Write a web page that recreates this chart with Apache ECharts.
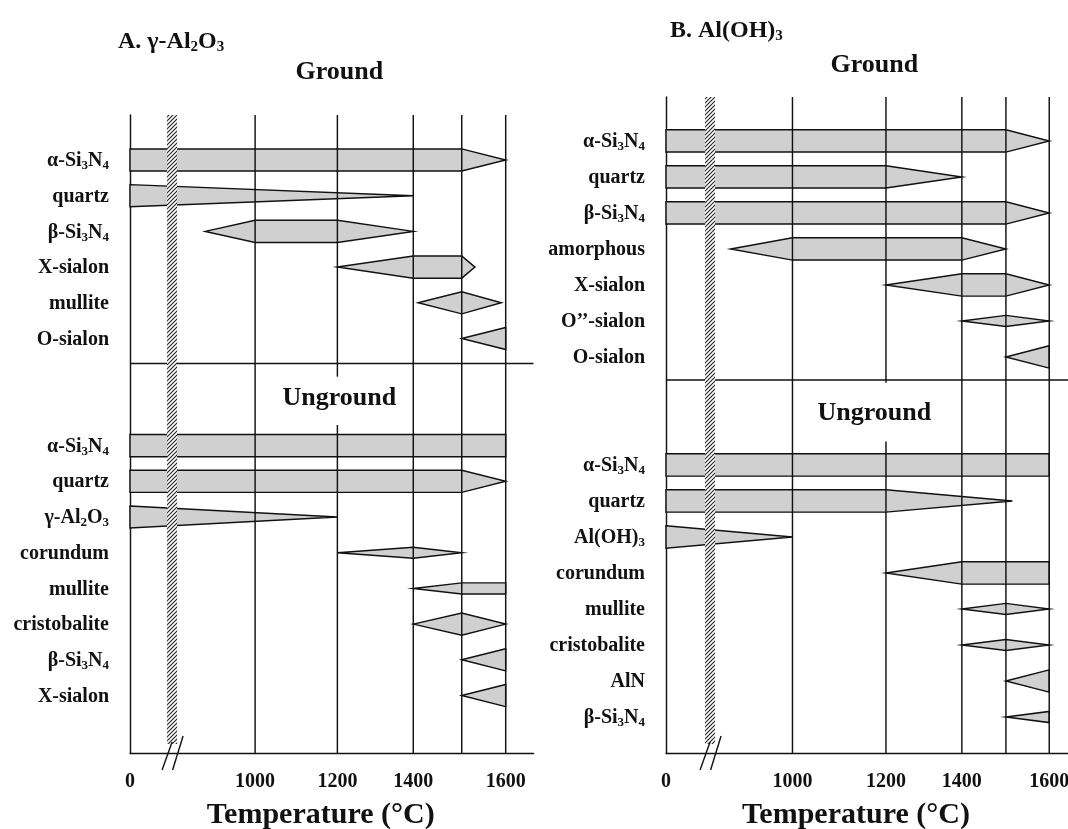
<!DOCTYPE html>
<html>
<head>
<meta charset="utf-8">
<script src="https://cdn.jsdelivr.net/npm/echarts@6/dist/echarts.min.js"></script>
<style>
  html, body { margin: 0; padding: 0; background: #fff; }
  #chart { width: 1068px; height: 829px; }
</style>
</head>
<body>
<div id="chart"></div>
<script>
// ---- Temperature axis (broken between 0 and 800 °C) ----
const tickTemps  = [0, 1000, 1200, 1400, 1600];
const guideTemps = [1000, 1200, 1400, 1500, 1600];
const breakTemp  = 800;
// temperature stops and where they sit along each panel's axis (0–1600 span = 100)
const stopTemps = [0, 800, 1000, 1200, 1400, 1500, 1600];
const stopPosA  = [0, 11.2, 33.3, 55.2, 75.4, 88.3, 100];
const stopPosB  = [0, 11.5, 33.0, 57.4, 77.2, 88.7, 100];

// ---- Phases: [label, row, profile [temperature °C, relative amount]] ----
const groundA = [
  ['α-Si_3N_4', 0, [[0, 1], [1500, 1], [1600, 0]]],
  ['quartz',    1, [[0, 1], [1400, 0]]],
  ['β-Si_3N_4', 2, [[880, 0], [1000, 1], [1200, 1], [1400, 0]]],
  ['X-sialon',  3, [[1200, 0], [1400, 1], [1500, 1], [1530, 0]]],
  ['mullite',   4, [[1410, 0], [1500, 1], [1590, 0]]],
  ['O-sialon',  5, [[1500, 0], [1600, 1]]]
];
const ungroundA = [
  ['α-Si_3N_4',    8, [[0, 1], [1600, 1]]],
  ['quartz',       9, [[0, 1], [1500, 1], [1600, 0]]],
  ['γ-Al_2O_3',   10, [[0, 1], [1200, 0]]],
  ['corundum',    11, [[1200, 0], [1400, 0.5], [1500, 0]]],
  ['mullite',     12, [[1400, 0], [1500, 0.5], [1600, 0.5]]],
  ['cristobalite',13, [[1400, 0], [1500, 1], [1600, 0]]],
  ['β-Si_3N_4',   14, [[1500, 0], [1600, 1]]],
  ['X-sialon',    15, [[1500, 0], [1600, 1]]]
];
const groundB = [
  ['α-Si_3N_4',  0, [[0, 1], [1500, 1], [1600, 0]]],
  ['quartz',     1, [[0, 1], [1200, 1], [1400, 0]]],
  ['β-Si_3N_4',  2, [[0, 1], [1500, 1], [1600, 0]]],
  ['amorphous',  3, [[850, 0], [1000, 1], [1400, 1], [1500, 0]]],
  ['X-sialon',   4, [[1200, 0], [1400, 1], [1500, 1], [1600, 0]]],
  ['O’’-sialon', 5, [[1400, 0], [1500, 0.5], [1600, 0]]],
  ['O-sialon',   6, [[1500, 0], [1600, 1]]]
];
const ungroundB = [
  ['α-Si_3N_4',     9, [[0, 1], [1600, 1]]],
  ['quartz',       10, [[0, 1], [1200, 1], [1515, 0]]],
  ['Al(OH)_3',     11, [[0, 1], [1000, 0]]],
  ['corundum',     12, [[1200, 0], [1400, 1], [1600, 1]]],
  ['mullite',      13, [[1400, 0], [1500, 0.5], [1600, 0]]],
  ['cristobalite', 14, [[1400, 0], [1500, 0.5], [1600, 0]]],
  ['AlN',          15, [[1500, 0], [1600, 1]]],
  ['β-Si_3N_4',    16, [[1500, 0], [1600, 0.5]]]
];

// ---- Section headings and separators (row units) ----
const sectionNames = ['Ground', 'Unground'];
const sectionRowsA = [-2.46, 6.67];
const sectionRowsB = [-2.11, 7.56];
const dividerRowA = 5.7;
const dividerRowB = 6.64;
const panelTitles = ['A. γ-Al_2O_3', 'B. Al(OH)_3'];

const FONT = '"Liberation Serif", "Times New Roman", serif';
const INK = '#111';
const FILL = '#d0d0d0';
const LW = 1.45;
const HALF = 0.31;           // half thickness of a full band, in row units

const rich = s => s.replace(/_(\d)/g, '{sub|$1}');
const subStyle = size => ({ fontSize: size, fontWeight: 'bold', fontFamily: FONT, fill: INK, color: INK,
  padding: [Math.round(size * 0.8), 0, 0, 0] });

function makeToPos(pos) {
  return t => {
    for (let i = 1; i < stopTemps.length; i++) {
      if (t <= stopTemps[i]) {
        const f = (t - stopTemps[i - 1]) / (stopTemps[i] - stopTemps[i - 1]);
        return pos[i - 1] + f * (pos[i] - pos[i - 1]);
      }
    }
    return pos[pos.length - 1];
  };
}

// hatch pattern for the axis break bar
const hatch = document.createElement('canvas');
hatch.width = 4; hatch.height = 4;
(function () {
  const c = hatch.getContext('2d');
  c.fillStyle = '#fff'; c.fillRect(0, 0, 4, 4);
  c.strokeStyle = '#222'; c.lineWidth = 1.1;
  c.beginPath();
  c.moveTo(0, 4); c.lineTo(4, 0);
  c.moveTo(-1, 1); c.lineTo(1, -1);
  c.moveTo(3, 5); c.lineTo(5, 3);
  c.stroke();
})();

const panels = [
  { grid: { left: 130, top: 115, width: 403.5, height: 638 }, xMax: 107.4, yMin: -1.26, yMax: 16.61,
    toPos: makeToPos(stopPosA), rows: groundA.concat(ungroundA), sections: sectionRowsA,
    divider: dividerRowA, headingTemp: 1205, gap: [6.07, 7.42] },
  { grid: { left: 666, top: 97, width: 402, height: 656 }, xMax: 104.9, yMin: -1.22, yMax: 17.0,
    toPos: makeToPos(stopPosB), rows: groundB.concat(ungroundB), sections: sectionRowsB,
    divider: dividerRowB, headingTemp: 1175, gap: [6.72, 8.35] }
];

const line = (p1, p2, w) => ({ type: 'line', shape: { x1: p1[0], y1: p1[1], x2: p2[0], y2: p2[1] },
  style: { stroke: INK, lineWidth: w || LW } });

const option = {
  backgroundColor: '#fff',
  animation: false,
  title: panelTitles.map((t, i) => ({
    text: rich(t),
    left: i === 0 ? 113 : 665,
    top: i === 0 ? 23 : 12,
    textStyle: { fontSize: 24, fontWeight: 'bold', fontFamily: FONT, color: INK,
      rich: { sub: subStyle(15) } }
  })),
  grid: panels.map(p => Object.assign({ containLabel: false, outerBoundsMode: 'none' }, p.grid)),
  xAxis: panels.map((p, i) => ({
    type: 'value', gridIndex: i, min: 0, max: p.xMax,
    axisLine: { show: true, onZero: false, lineStyle: { color: INK, width: LW } },
    axisTick: { show: false },
    splitLine: { show: false },
    axisLabel: {
      customValues: tickTemps.map(p.toPos),
      formatter: v => {
        let best = 0;
        tickTemps.forEach((t, k) => { if (Math.abs(p.toPos(t) - v) < Math.abs(p.toPos(tickTemps[best]) - v)) best = k; });
        return String(tickTemps[best]);
      },
      margin: 19, fontSize: 20, fontWeight: 'bold', fontFamily: FONT, color: INK
    },
    name: 'Temperature (°C)', nameLocation: 'middle', nameGap: 47,
    nameTextStyle: { fontSize: 30, fontWeight: 'bold', fontFamily: FONT, color: INK, padding: [0, 22, 0, 0] }
  })),
  yAxis: panels.map((p, i) => ({
    type: 'value', gridIndex: i, inverse: true, min: p.yMin, max: p.yMax,
    axisLine: { show: true, onZero: false, lineStyle: { color: INK, width: LW } },
    axisTick: { show: false }, axisLabel: { show: false }, splitLine: { show: false }
  })),
  series: []
};

panels.forEach((p, i) => {
  // phase bands with their row labels
  option.series.push({
    type: 'custom', xAxisIndex: i, yAxisIndex: i, z: 2, silent: true,
    data: p.rows.map(r => [0, r[1]]),
    renderItem: (params, api) => {
      const [name, row, prof] = p.rows[params.dataIndex];
      const top = [], bot = [];
      prof.forEach(([t, w]) => {
        const x = p.toPos(t);
        top.push(api.coord([x, row - w * HALF]));
        bot.unshift(api.coord([x, row + w * HALF]));
      });
      const anchor = api.coord([0, row]);
      return { type: 'group', children: [
        { type: 'polygon', shape: { points: top.concat(bot) },
          style: { fill: FILL, stroke: INK, lineWidth: LW, lineJoin: 'miter' } },
        { type: 'text', style: { text: rich(name), x: anchor[0] - 21, y: anchor[1] + 1,
            align: 'right', verticalAlign: 'middle', fontSize: 20, fontWeight: 'bold',
            fontFamily: FONT, fill: INK, rich: { sub: subStyle(13) } } }
      ] };
    }
  });
  // guide lines, section separator, axis break and headings
  option.series.push({
    type: 'custom', xAxisIndex: i, yAxisIndex: i, z: 3, silent: true,
    data: [[0, 0]],
    renderItem: (params, api) => {
      const ch = [];
      guideTemps.forEach(t => {
        const x = p.toPos(t);
        const segs = t === 1200 ? [[p.yMin, p.gap[0]], [p.gap[1], p.yMax]] : [[p.yMin, p.yMax]];
        segs.forEach(([a, b]) => ch.push(line(api.coord([x, a]), api.coord([x, b]))));
      });
      ch.push(line(api.coord([0, p.divider]), api.coord([p.xMax, p.divider])));
      const bx = p.toPos(breakTemp);
      const bt = api.coord([bx, p.yMin]), bb = api.coord([bx, p.yMax]);
      ch.push({ type: 'rect', shape: { x: bt[0] - 5, y: bt[1], width: 10, height: bb[1] - bt[1] - 9 },
        style: { fill: { image: hatch, repeat: 'repeat' }, stroke: null } });
      ch.push(line([bb[0] - 10, bb[1] + 17], [bb[0], bb[1] - 11], 1.4));
      ch.push(line([bb[0] + 0.5, bb[1] + 17], [bb[0] + 11, bb[1] - 17], 1.4));
      sectionNames.forEach((s, k) => {
        const c = api.coord([p.toPos(p.headingTemp), p.sections[k]]);
        ch.push({ type: 'text', style: { text: s, x: c[0], y: c[1], align: 'center', verticalAlign: 'middle',
          fontSize: 26, fontWeight: 'bold', fontFamily: FONT, fill: INK } });
      });
      return { type: 'group', children: ch };
    }
  });
});

const chart = echarts.init(document.getElementById('chart'), null, { renderer: 'canvas' });
chart.setOption(option);
</script>
</body>
</html>
